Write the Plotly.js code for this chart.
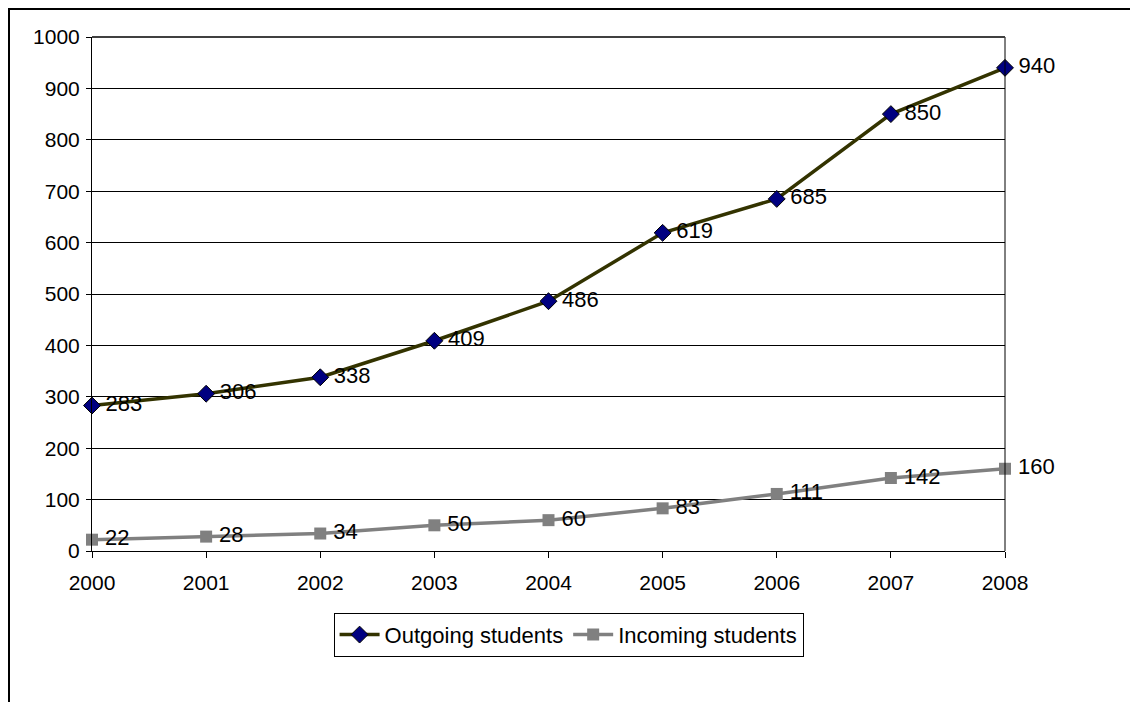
<!DOCTYPE html>
<html>
<head>
<meta charset="utf-8">
<script src="https://cdn.plot.ly/plotly-3.0.1.min.js"></script>
<style>
  html, body { margin: 0; padding: 0; background: #fff; }
  #chart { width: 1130px; height: 702px; }
</style>
</head>
<body>
<div id="chart"></div>
<script>
// Student mobility, 2000-2008
const years = [2000, 2001, 2002, 2003, 2004, 2005, 2006, 2007, 2008];
const outgoing = [283, 306, 338, 409, 486, 619, 685, 850, 940];
const incoming = [22, 28, 34, 50, 60, 83, 111, 142, 160];
const seriesNames = ["Outgoing students", "Incoming students"];
const yTicks = [0, 100, 200, 300, 400, 500, 600, 700, 800, 900, 1000];

const labelFont = { family: "Arial, 'Liberation Sans', sans-serif", size: 22, color: "#000" };
// value labels sit a little to the right of each marker
const asLabel = v => "\u2009" + v;

const traces = [
  {
    x: years, y: outgoing, name: seriesNames[0],
    type: "scatter", mode: "lines+markers+text",
    text: outgoing.map(asLabel), textposition: "middle right", textfont: labelFont,
    line: { color: "#333300", width: 3.5 },
    marker: { symbol: "diamond", size: 13, color: "#000080", line: { color: "#000000", width: 1 } },
    cliponaxis: false
  },
  {
    x: years, y: incoming, name: seriesNames[1],
    type: "scatter", mode: "lines+markers+text",
    text: incoming.map(asLabel), textposition: "middle right", textfont: labelFont,
    line: { color: "#808080", width: 3.5 },
    marker: { symbol: "square", size: 12, color: "#808080" },
    cliponaxis: false
  }
];

const layout = {
  width: 1130, height: 702,
  paper_bgcolor: "#fff", plot_bgcolor: "#fff",
  margin: { l: 92, r: 125, t: 37, b: 151 },
  font: { family: "Arial, 'Liberation Sans', sans-serif", size: 22, color: "#000" },
  showlegend: true,
  legend: {
    orientation: "h", x: 0.522, xanchor: "center", y: -0.163, yanchor: "middle",
    bordercolor: "#000", borderwidth: 1, bgcolor: "#fff",
    font: { size: 22 }, itemwidth: 40, tracegroupgap: 0
  },
  xaxis: {
    range: [2000, 2008], tickvals: years, ticktext: years.map(String),
    showgrid: false, zeroline: false,
    showline: true, linecolor: "#000", linewidth: 1, mirror: false,
    ticks: "outside", ticklen: 6, tickcolor: "#000",
    tickfont: { size: 21 }, ticklabelstandoff: 7
  },
  yaxis: {
    range: [0, 1000], tickvals: yTicks,
    showgrid: true, gridcolor: "#000", gridwidth: 1, zeroline: false,
    showline: true, linecolor: "#000", linewidth: 1,
    ticks: "outside", ticklen: 5, tickcolor: "#000",
    tickfont: { size: 21 }, ticklabelstandoff: 2
  },
  shapes: [
    // right edge of the plot area
    { type: "line", xref: "paper", yref: "paper", x0: 1, x1: 1, y0: 0, y1: 1,
      line: { color: "#000", width: 1 } },
    // top edge of the plot area
    { type: "line", xref: "paper", yref: "paper", x0: 0, x1: 1, y0: 1, y1: 1,
      line: { color: "#404040", width: 2 } },
    // outer chart frame
    { type: "rect", xref: "paper", yref: "paper",
      x0: -83 / 913, x1: 1160 / 913 - 92 / 913, y0: 1 + 28 / 514, y1: -180 / 514,
      line: { color: "#000", width: 2 }, fillcolor: "rgba(0,0,0,0)" }
  ]
};

Plotly.newPlot("chart", traces, layout, { displayModeBar: false, staticPlot: true });
</script>
</body>
</html>
